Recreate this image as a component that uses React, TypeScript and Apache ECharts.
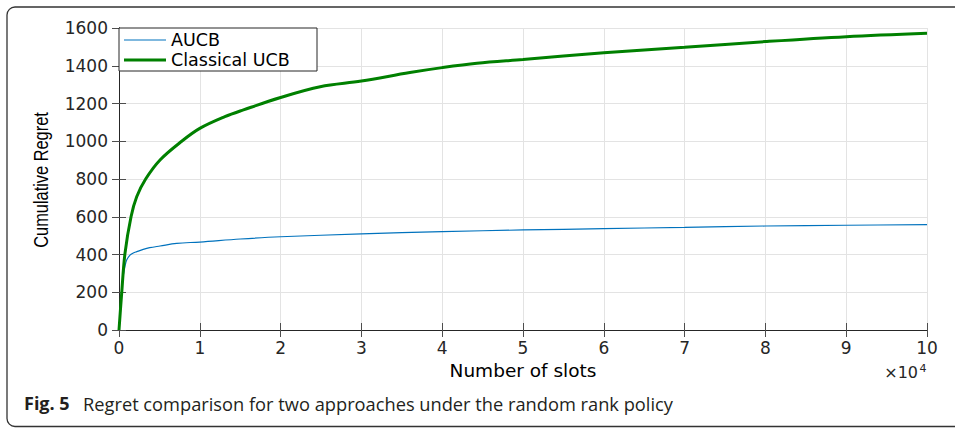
import React, { useEffect, useRef } from "react";
import * as echarts from "echarts";

// x values are in units of 10^4 slots
const aucbX = [0, 0.03, 0.054, 0.075, 0.095, 0.136, 0.177, 0.22, 0.3, 0.38, 0.508, 0.715, 1.0, 1.5, 2.0, 3.0, 4.0, 5.0, 6.0, 7.0, 8.0, 9.0, 10.0];
const aucbY = [0, 190, 290, 340, 371, 397, 408, 415, 427, 436, 445, 459, 466, 482, 494, 509, 521, 530, 537, 544, 551, 555, 558];

const ucbX = [0, 0.033, 0.074, 0.149, 0.219, 0.33, 0.508, 0.776, 1.0, 1.31, 1.54, 2.0, 2.49, 3.0, 3.6, 4.0, 4.43, 5.0, 6.0, 7.0, 8.0, 9.0, 10.0];
const ucbY = [0, 194, 406, 600, 706, 800, 901, 1000, 1068, 1130, 1166, 1232, 1289, 1319, 1364, 1390, 1413, 1433, 1469, 1498, 1528, 1554, 1572];

const seriesNames = ["AUCB", "Classical UCB"];
const xAxisName = "Number of slots";
const yAxisName = "Cumulative Regret";
const captionBold = "Fig. 5";
const captionText = "Regret comparison for two approaches under the random rank policy";

const pairs = (xs: number[], ys: number[]) => xs.map((x, i) => [x, ys[i]]);

// legend line icons (42 x 14 box, line in the middle)
const thinLineIcon = "path://M0,6.4H42V7.6H0Z M0,0H0.01V0.01H0Z M42,14H41.99V13.99H42Z";
const thickLineIcon = "path://M0,5.5H42V8.5H0Z M0,0H0.01V0.01H0Z M42,14H41.99V13.99H42Z";

export default function App() {
  const ref = useRef<HTMLDivElement>(null);
  useEffect(() => {
    if (!ref.current) return;
    const chart = echarts.init(ref.current, null, { renderer: "svg" });
    const tickFont = { fontFamily: "DejaVu Sans", fontSize: 17, color: "#262626" };
    const axisLine = { show: true, lineStyle: { color: "#262626", width: 1 } };
    const tick = { show: true, inside: true, length: 7, lineStyle: { color: "#4d4d4d", width: 1 } };
    const option: any = {
      animation: false,
      backgroundColor: "#ffffff",
      grid: { left: 119, right: 28, top: 28, bottom: 99 },
      legend: {
        data: [
          { name: seriesNames[0], icon: thinLineIcon },
          { name: seriesNames[1], icon: thickLineIcon },
        ],
        orient: "vertical",
        left: 119,
        top: 28,
        backgroundColor: "#ffffff",
        borderColor: "#262626",
        borderWidth: 1,
        borderRadius: 0,
        padding: [3, 5, 2, 5],
        itemWidth: 42,
        itemHeight: 14,
        itemGap: 2,
        textStyle: { fontFamily: "DejaVu Sans", fontSize: 17.5, color: "#000", lineHeight: 18, width: 141 },
      },
      xAxis: [
        {
          type: "value",
          min: 0,
          max: 10,
          interval: 1,
          position: "bottom",
          axisLine,
          axisTick: tick,
          axisLabel: { ...tickFont, margin: 9, formatter: (v: number) => String(v) },
          splitLine: { show: true, lineStyle: { color: "#e3e3e3", width: 1 } },
          name: xAxisName,
          nameLocation: "middle",
          nameGap: 28,
          nameTextStyle: { fontFamily: "DejaVu Sans", fontSize: 18.5, color: "#000" },
        },
        {
          type: "value",
          min: 0,
          max: 10,
          interval: 1,
          position: "top",
          axisLine,
          axisTick: tick,
          axisLabel: { show: false },
          splitLine: { show: false },
        },
      ],
      yAxis: [
        {
          type: "value",
          min: 0,
          max: 1600,
          interval: 200,
          position: "left",
          axisLine,
          axisTick: tick,
          axisLabel: { ...tickFont, margin: 11, formatter: (v: number) => String(v) },
          splitLine: { show: true, lineStyle: { color: "#e3e3e3", width: 1 } },
        },
        {
          type: "value",
          min: 0,
          max: 1600,
          interval: 200,
          position: "right",
          axisLine,
          axisTick: tick,
          axisLabel: { show: false },
          splitLine: { show: false },
        },
      ],
      series: [
        {
          name: seriesNames[0],
          type: "line",
          xAxisIndex: 0,
          yAxisIndex: 0,
          data: pairs(aucbX, aucbY),
          symbol: "none",
          smooth: 0.35,
          lineStyle: { color: "#0072BD", width: 1.2 },
          itemStyle: { color: "#0072BD" },
          z: 2,
        },
        {
          name: seriesNames[1],
          type: "line",
          xAxisIndex: 0,
          yAxisIndex: 0,
          data: pairs(ucbX, ucbY),
          symbol: "none",
          smooth: 0.35,
          lineStyle: { color: "#008000", width: 3 },
          itemStyle: { color: "#008000" },
          z: 3,
        },
      ],
      graphic: [
        {
          type: "rect",
          z: -10,
          shape: { x: 7, y: 7, width: 975, height: 419.5, r: 8 },
          style: { fill: "none", stroke: "#333333", lineWidth: 1.3 },
          silent: true,
        },
        {
          type: "text",
          x: 41,
          y: 180,
          rotation: Math.PI / 2,
          scaleX: 0.78,
          style: { text: yAxisName, fontFamily: "Liberation Sans", fontSize: 21, fill: "#000", align: "center", verticalAlign: "middle" },
        },
        {
          type: "text",
          x: 918,
          y: 372.5,
          style: { text: "×10", fontFamily: "DejaVu Sans", fontSize: 16, fill: "#262626", align: "right", verticalAlign: "middle" },
        },
        {
          type: "text",
          x: 926.5,
          y: 368,
          style: { text: "4", fontFamily: "DejaVu Sans", fontSize: 11, fill: "#262626", align: "right", verticalAlign: "middle" },
        },
        {
          type: "text",
          x: 24,
          y: 403,
          style: { text: captionBold, fontFamily: "Open Sans", fontWeight: "bold", fontSize: 18, fill: "#231f20", align: "left", verticalAlign: "middle" },
        },
        {
          type: "text",
          x: 83,
          y: 403,
          style: { text: captionText, fontFamily: "Open Sans", fontSize: 18.25, fill: "#231f20", align: "left", verticalAlign: "middle" },
        },
      ],
    };
    chart.setOption(option);
    return () => chart.dispose();
  }, []);
  return (
    <div style={{ position: "absolute", left: 0, top: 0, width: 955, height: 429, background: "#fff" }}>
      <div ref={ref} style={{ width: 955, height: 429 }} />
    </div>
  );
}
